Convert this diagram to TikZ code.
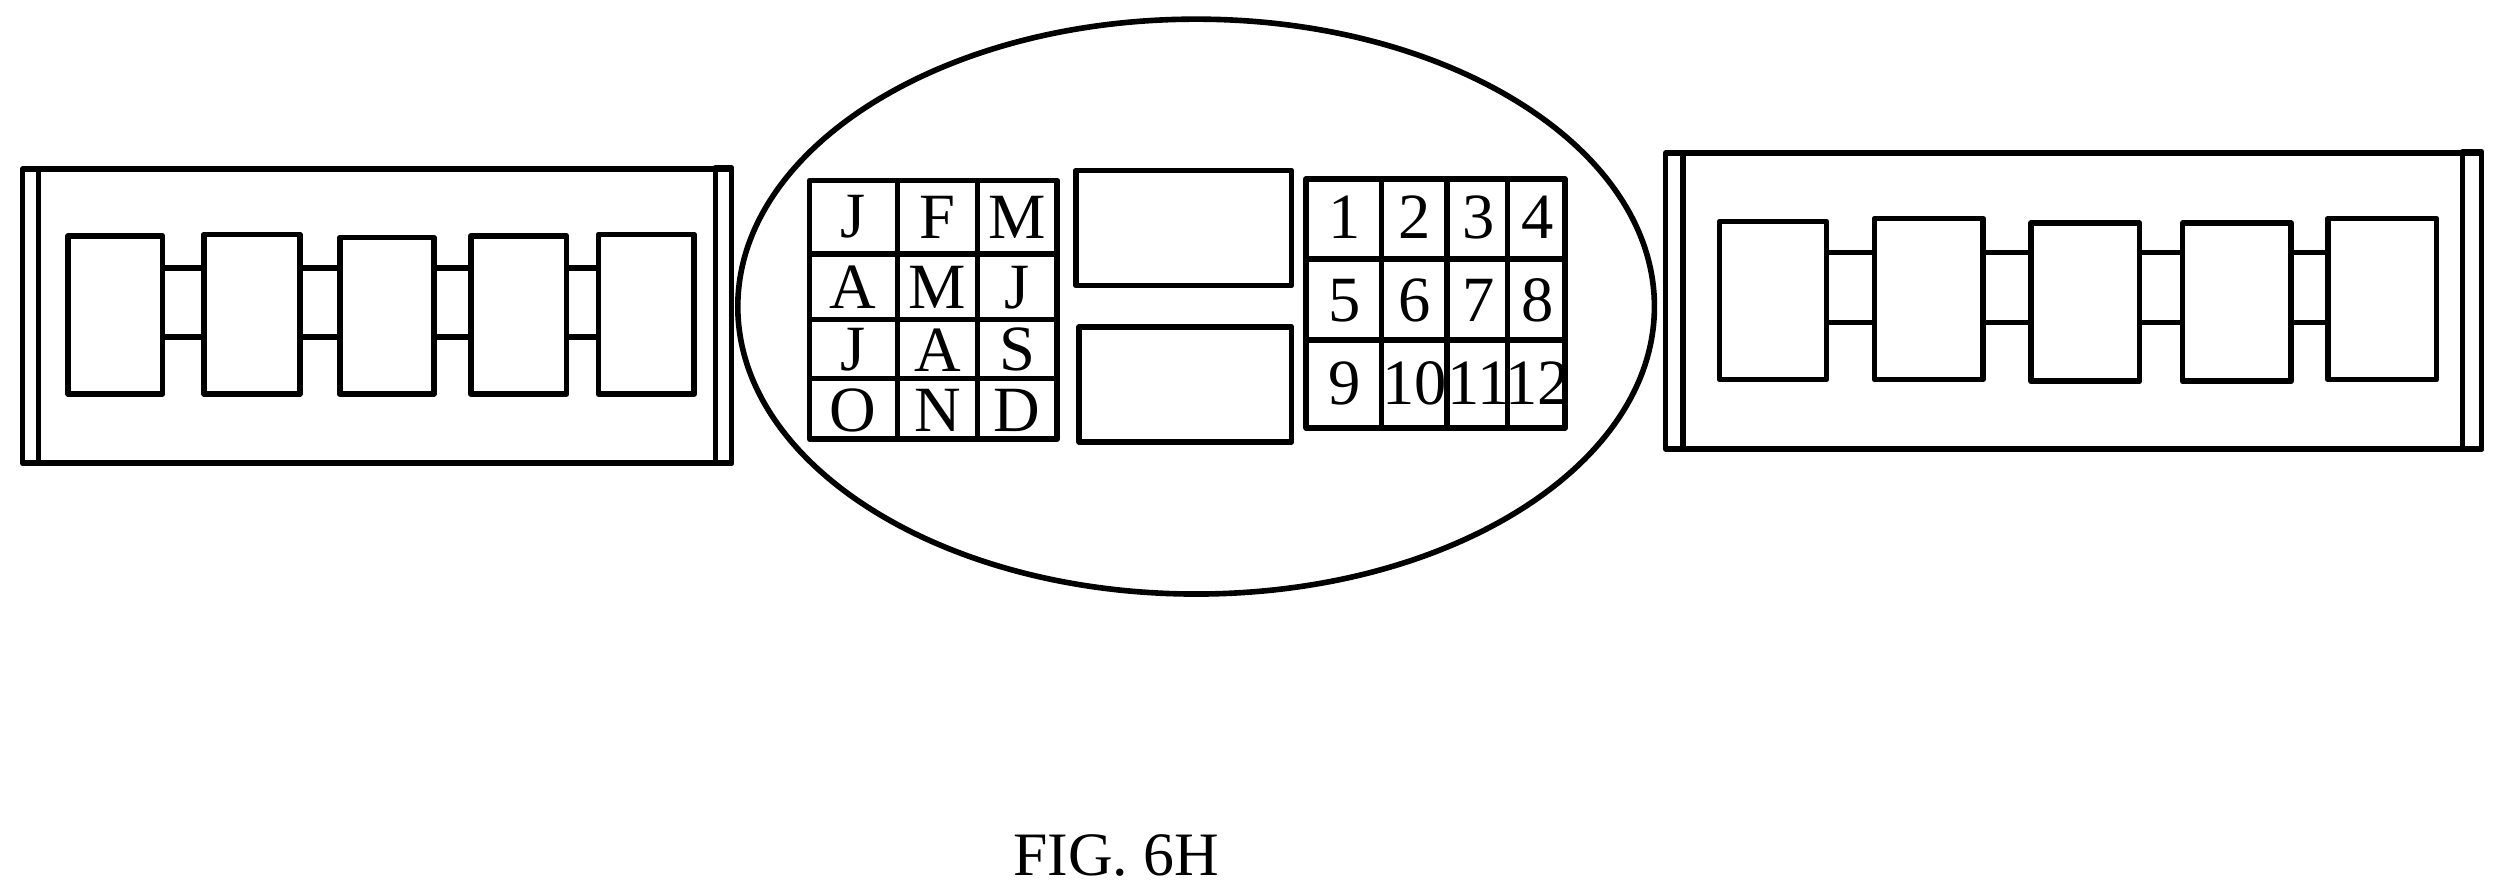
\documentclass[tikz,border=0pt]{standalone}
\usepackage{fontspec}
\setmainfont{Liberation Serif}
\usetikzlibrary{shapes,positioning}
\tikzset{
  part/.style = {draw, rectangle, inner sep=0pt, anchor=north west},% inner block
  cell/.style = {font=\fontsize{11.5}{11.5}\selectfont, inner sep=0pt}
}
\newcommand{\blk}[5]{% name, x, y, w, h
  \node [part, minimum width=#4mm, minimum height=#5mm] (#1) at (#2,#3) {};}

\begin{document}
\begin{tikzpicture}[x=0.1mm, y=-0.1mm, line width=1pt, line join=round]
    \useasboundingbox (0,0) rectangle (1568,560);
    % left housing
    \draw (14,106) rectangle (458,290);
    \draw (24,106) -- (24,290);
    \draw (448,105) rectangle (458,290);
    \blk{a1}{41}{146}{5.9}{9.9}
    \blk{a2}{126}{145}{6.0}{10.0}
    \blk{a3}{211}{147}{5.9}{9.8}
    \blk{a4}{293}{146}{6.0}{9.9}
    \blk{a5}{373}{145}{6.0}{10.0}
    \foreach \i [count=\j from 2] in {1,...,4} {
      \draw (a\i.east |- 0,168) -- (a\j.west |- 0,168);
      \draw (a\i.east |- 0,211) -- (a\j.west |- 0,211);
    }
    % centre ellipse
    \node [draw, ellipse, inner sep=0pt, minimum width=57.4mm, minimum height=36mm] (E) at (749,192) {};
    % months grid
    \draw (507,113) rectangle (662,275);
    \draw (562,113) -- (562,275) (612,113) -- (612,275);
    \draw (507,159) -- (662,159) (507,200) -- (662,200) (507,237) -- (662,237);
    \foreach \t [count=\k from 0] in {J,F,M,A,M,J,J,A,S,O,N,D} {
      \pgfmathsetmacro{\cx}{mod(\k,3)}
      \pgfmathsetmacro{\cy}{int(\k/3)}
      \pgfmathsetmacro{\xx}{{534,587,637}[\cx]}
      \pgfmathsetmacro{\yy}{{136,180,219,257}[\cy]}
      \node [cell] (m\k) at (\xx,\yy) {\t};
    }
    \blk{s1}{672}{105}{13.5}{7.2}
    \blk{s2}{674}{203}{13.3}{7.2}
    % numbers grid
    \draw (818,112) rectangle (980,268);
    \draw (865,112) -- (865,268) (906,112) -- (906,268) (944,112) -- (944,268);
    \draw (818,162) -- (980,162) (818,213) -- (980,213);
    \foreach \t [count=\k from 0] in {1,...,12} {
      \pgfmathsetmacro{\cx}{mod(\k,4)}
      \pgfmathsetmacro{\cy}{int(\k/4)}
      \pgfmathsetmacro{\xx}{{842,886,926,963}[\cx]}
      \pgfmathsetmacro{\yy}{{136,188,240}[\cy]}
      \node [cell] (n\k) at (\xx,\yy) {\t};
    }
    % right housing
    \draw (1043,96) rectangle (1554,281);
    \draw (1054,96) -- (1054,281);
    \draw (1542,95) rectangle (1554,281);
    \blk{b1}{1075}{137}{6.7}{9.9}
    \blk{b2}{1172}{135}{6.8}{10.1}
    \blk{b3}{1270}{138}{6.8}{9.9}
    \blk{b4}{1365}{138}{6.8}{9.9}
    \blk{b5}{1456}{135}{6.8}{10.1}
    \foreach \i [count=\j from 2] in {1,...,4} {
      \draw (b\i.east |- 0,158) -- (b\j.west |- 0,158);
      \draw (b\i.east |- 0,202) -- (b\j.west |- 0,202);
    }
    \node [cell, font=\fontsize{11}{11}\selectfont] (cap) at (699,536) {FIG. 6H};
\end{tikzpicture}
\end{document}
